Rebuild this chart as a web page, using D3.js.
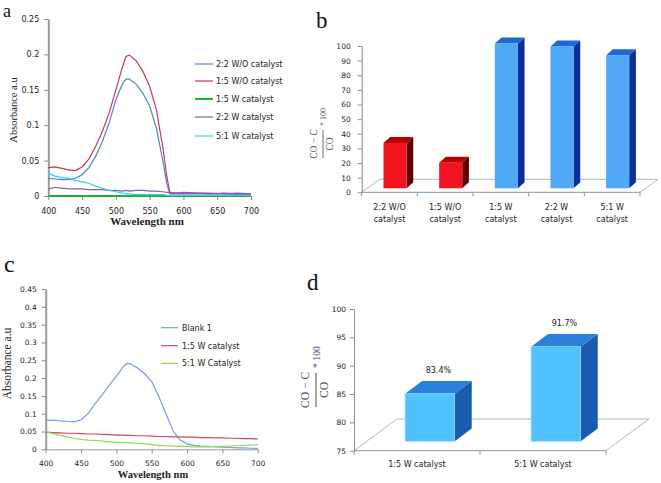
<!DOCTYPE html>
<html><head><meta charset="utf-8">
<script src="https://cdn.jsdelivr.net/npm/d3@7"></script>
<style>body{margin:0;background:#fff}svg{display:block}</style>
</head><body><svg id="chart" width="661" height="483"></svg>
<script>
// ---------- DATA ----------
const wavelengthA = [400,410,420,430,440,450,460,470,480,490,500,510,515,520,530,540,550,560,570,575,580,590,600,620,640,660,680,700];
const seriesA22WO = [.025,.024,.023,.023,.025,.030,.040,.056,.077,.103,.136,.159,.165,.165,.158,.145,.127,.096,.047,.019,.003,.003,.003,.003,.003,.003,.002,.002];
const seriesA15WO = [.040,.041,.039,.037,.036,.041,.052,.070,.091,.117,.150,.183,.197,.199,.191,.176,.155,.122,.066,.030,.004,.004,.004,.004,.003,.004,.003,.003];
const seriesA15W  = [0,0,0,0,0,0,0,0,0,0,0,0,0,0,0,0,0,0,0,0,0,0,0,0,0,0,0,0];
const seriesA22W  = [.010,.012,.011,.010,.010,.010,.009,.009,.009,.008,.008,.007,.008,.007,.008,.008,.007,.007,.006,.005,.005,.004,.005,.004,.004,.003,.004,.003];
const seriesA51W  = [.032,.028,.026,.025,.022,.020,.018,.014,.011,.008,.006,.004,.003,.003,.002,.002,.002,.002,.002,.001,.001,.001,.001,.001,.001,.001,.001,.001];
const legendA = ["2:2 W/O catalyst","1:5 W/O catalyst","1:5 W catalyst","2:2 W catalyst","5:1 W catalyst"];
const yTicksA = [0,0.05,0.1,0.15,0.2,0.25];
const yTickLabelsA = ["0","0.05","0.1","0.15","0.2","0.25"];
const xTicks = [400,450,500,550,600,650,700];

const wavelengthC = [400,410,420,430,440,450,460,470,480,490,500,510,515,520,530,540,550,560,570,580,590,600,610,620,630,640,650,660,670,680,690,700];
const seriesCBlank = [.082,.082,.080,.078,.077,.083,.100,.128,.153,.180,.205,.232,.241,.240,.228,.212,.190,.148,.101,.052,.027,.015,.011,.009,.008,.007,.006,.005,.004,.004,.003,.002];
const seriesC15W   = [.048,.047,.046,.045,.045,.044,.043,.043,.042,.041,.040,.040,.039,.039,.038,.038,.037,.036,.036,.035,.035,.034,.034,.033,.033,.032,.032,.031,.031,.030,.030,.029];
const seriesC51W   = [.050,.044,.039,.035,.031,.028,.026,.025,.023,.021,.020,.019,.019,.018,.017,.015,.013,.011,.010,.009,.008,.008,.007,.007,.007,.008,.008,.009,.010,.011,.012,.013];
const legendC = ["Blank 1","1:5 W catalyst","5:1 W Catalyst"];
const yTicksC = [0,0.05,0.1,0.15,0.2,0.25,0.3,0.35,0.4,0.45];
const yTickLabelsC = ["0","0.05","0.1","0.15","0.2","0.25","0.3","0.35","0.4","0.45"];

const categoriesB = ["2:2 W/O catalyst","1:5 W/O catalyst","1:5 W catalyst","2:2 W catalyst","5:1 W catalyst"];
const categoryLinesB = [["2:2 W/O","catalyst"],["1:5 W/O","catalyst"],["1:5 W","catalyst"],["2:2 W","catalyst"],["5:1 W","catalyst"]];
const valuesB = [31, 17.5, 99, 97, 91];
const groupB = ["red","red","blue","blue","blue"];
const yTicksB = [0,10,20,30,40,50,60,70,80,90,100];

const categoriesD = ["1:5 W catalyst","5:1 W catalyst"];
const valuesD = [83.4, 91.7];
const valueLabelsD = ["83.4%","91.7%"];
const yTicksD = [75,80,85,90,95,100];

// ---------- STYLES ----------
const svg = d3.select("#chart");
const SANS = "DejaVu Sans, Verdana, sans-serif";
const SERIF = "Liberation Serif, Times New Roman, serif";
const colA = ["#4A86D8","#C23A5C","#1DB33A","#8064A2","#3CC8F2"];
const widA = [1.2,1.2,2,1.2,1.2];
const colC = ["#6FA0E2","#D2465F","#95D655"];

function panelLetter(t,x,y,size){
  svg.append("text").attr("x",x).attr("y",y).attr("font-family",SERIF).attr("font-size",size).attr("fill","#111").text(t);
}

// ---------- LINE PANEL ----------
function linePanel(cfg){
  const g = svg.append("g");
  const x = d3.scaleLinear().domain([400,700]).range(cfg.xr);
  const y = d3.scaleLinear().domain(cfg.yd).range(cfg.yr);
  const ya = g.append("g").attr("transform",`translate(${cfg.xr[0]},0)`)
    .call(d3.axisLeft(y).tickValues(cfg.yt).tickFormat((d,i)=>cfg.ytl[i]).tickSize(4).tickSizeOuter(0).tickPadding(cfg.ypad));
  ya.select(".domain").attr("stroke","#9a9a9a").attr("stroke-width",2);
  ya.selectAll(".tick line").attr("stroke","#8a8a8a");
  ya.selectAll("text").attr("font-family",SANS).attr("font-size",cfg.fs).attr("fill","#222");
  const xa = g.append("g").attr("transform",`translate(0,${cfg.yr[0]})`)
    .call(d3.axisBottom(x).tickValues(xTicks).tickSize(4).tickSizeOuter(0).tickPadding(cfg.xpad));
  xa.select(".domain").attr("stroke","#9a9a9a");
  xa.selectAll(".tick line").attr("stroke","#8a8a8a");
  xa.selectAll("text").attr("font-family",SANS).attr("font-size",cfg.fs).attr("fill","#222");
  const line = d3.line().x((d,i)=>x(cfg.wl[i])).y(d=>y(d));
  cfg.series.forEach((s,k)=>{
    g.append("path").datum(s).attr("fill","none").attr("stroke",cfg.cols[k]).attr("stroke-width",cfg.wids[k]).attr("d",line);
  });
  cfg.legend.forEach((t,k)=>{
    const yy = cfg.legY[k];
    g.append("line").attr("x1",cfg.legX[0]).attr("x2",cfg.legX[1]).attr("y1",yy).attr("y2",yy)
      .attr("stroke",cfg.cols[k]).attr("stroke-width",cfg.wids[k]);
    g.append("text").attr("x",cfg.legX[2]).attr("y",yy).attr("dy","0.35em").attr("font-family",SANS)
      .attr("font-size",cfg.lfs).attr("fill","#222").text(t);
  });
  g.append("text").attr("x",cfg.xt[0]).attr("y",cfg.xt[1]).attr("text-anchor","middle").attr("font-family",SERIF)
    .attr("font-weight","bold").attr("font-size",cfg.xt[2]).attr("fill","#222").text("Wavelength nm");
  g.append("text").attr("transform",`translate(${cfg.yt2[0]},${cfg.yt2[1]}) rotate(-90)`).attr("text-anchor","middle")
    .attr("font-family",SERIF).attr("font-size",cfg.yt2[2]).attr("fill","#222").text("Absorbance a.u");
}

linePanel({xr:[48.3,251],yd:[0,0.25],yr:[196,19],yt:yTicksA,ytl:yTickLabelsA,fs:8,ypad:5,xpad:8,
  wl:wavelengthA,series:[seriesA22WO,seriesA15WO,seriesA15W,seriesA22W,seriesA51W],cols:colA,wids:widA,
  legend:legendA,legY:[64,81,99,117,136],legX:[195,213,216],lfs:8,
  xt:[147,225,11],yt2:[17,110,10.5]});
linePanel({xr:[45.7,257.7],yd:[0,0.45],yr:[449.3,289],yt:yTicksC,ytl:yTickLabelsC,fs:7.5,ypad:5,xpad:7,
  wl:wavelengthC,series:[seriesCBlank,seriesC15W,seriesC51W],cols:colC,wids:[1.2,1.2,1.2],
  legend:legendC,legY:[327.7,345.7,363.3],legX:[161,178,182],lfs:8,
  xt:[153,478,10.5],yt2:[11,363.5,11.5]});

// ---------- 3D BAR PANEL ----------
function bar3D(g,x0,w,yT,yB,dx,dy,c){
  g.append("path").attr("d",`M${x0+w},${yT}L${x0+w+dx},${yT-dy}L${x0+w+dx},${yB-dy}L${x0+w},${yB}Z`).attr("fill",c.side);
  g.append("path").attr("d",`M${x0},${yT}L${x0+dx},${yT-dy}L${x0+w+dx},${yT-dy}L${x0+w},${yT}Z`).attr("fill",c.top);
  g.append("rect").attr("x",x0).attr("y",yT).attr("width",w).attr("height",yB-yT).attr("fill",c.front).attr("stroke",c.edge||"none").attr("stroke-width",0.6);
}
function formula(x,y,s){
  const f = svg.append("g").attr("transform",`translate(${x},${y}) rotate(-90) scale(${s})`).attr("font-family",SERIF).attr("fill","#5a4585");
  f.append("text").attr("x",14).attr("y",-6).attr("text-anchor","middle").attr("font-size",9.5).text("CO − C");
  f.append("line").attr("x1",0).attr("x2",28).attr("y1",0).attr("y2",0).attr("stroke","#444").attr("stroke-width",0.8);
  f.append("text").attr("x",14).attr("y",10).attr("text-anchor","middle").attr("font-size",9.5).text("CO");
  f.append("text").attr("x",32).attr("y",3).attr("font-size",8).text("* 100");
}

function barPanel(cfg){
  const g = svg.append("g");
  const x = d3.scaleBand().domain(cfg.cats).range(cfg.xr).padding(0);
  const y = d3.scaleLinear().domain(cfg.yd).range(cfg.yr);
  const y0 = cfg.yr[0], xL = cfg.xr[0], xR = cfg.xr[1];
  const [fdx,fdy] = cfg.floor;
  g.append("path").attr("d",`M${xL},${y0}L${xL+fdx},${y0-fdy}L${xR+fdx},${y0-fdy}L${xR},${y0}`)
    .attr("fill","none").attr("stroke","#a8b0b8").attr("stroke-width",0.9);
  g.append("line").attr("x1",xL).attr("x2",xR).attr("y1",y0).attr("y2",y0).attr("stroke","#8a96a6");
  const bounds = cfg.cats.map(c=>x(c)).concat([xR]);
  g.selectAll(".bt").data(bounds).enter().append("line").attr("x1",d=>d).attr("x2",d=>d).attr("y1",y0).attr("y2",y0+4).attr("stroke","#8a96a6");
  const ya = g.append("g").attr("transform",`translate(${xL},0)`)
    .call(d3.axisLeft(y).tickValues(cfg.yt).tickFormat(d3.format("d")).tickSize(4).tickSizeOuter(0).tickPadding(cfg.ypad));
  ya.select(".domain").attr("stroke","#7f8fa3");
  ya.selectAll(".tick line").attr("stroke","#7f8fa3");
  ya.selectAll("text").attr("font-family",SANS).attr("font-size",7.5).attr("fill","#1c1c38");
  const bw = x.bandwidth()*cfg.wf;
  cfg.vals.forEach((v,i)=>{
    const x0 = x(cfg.cats[i]) + (x.bandwidth()-bw)/2 + cfg.off[0];
    const yT = y(v) - cfg.off[1], yB = y0 - cfg.off[1];
    bar3D(g,x0,bw,yT,yB,cfg.depth[0],cfg.depth[1],cfg.colors[i]);
    if(cfg.vlabels){
      g.append("text").attr("x",x0+bw/2+cfg.depth[0]/2).attr("y",yT-cfg.depth[1]-8).attr("text-anchor","middle")
        .attr("font-family",SANS).attr("font-size",8).attr("fill","#222").text(cfg.vlabels[i]);
    }
  });
  cfg.cats.forEach((c,i)=>{
    cfg.lines[i].forEach((t,j)=>{
      g.append("text").attr("x",x(c)+x.bandwidth()/2).attr("y",cfg.labY+j*12.5).attr("text-anchor","middle")
        .attr("font-family",SANS).attr("font-size",8).attr("fill","#222").text(t);
    });
  });
}

const RED = {front:"#F2141F",side:"#5E0000",top:"#B80000"};
const BLUE = {front:"#4FA9F7",side:"#0B2F98",top:"#1F66D6"};
barPanel({cats:categoriesB,lines:categoryLinesB,vals:valuesB,xr:[361.7,640],yd:[0,100],yr:[192.3,46],yt:yTicksB,ypad:7,
  floor:[18,13],wf:0.414,off:[5.5,4],depth:[6.7,6],colors:groupB.map(g=>g==="red"?RED:BLUE),labY:209.5});

const CYAN = {front:"#50C3FE",side:"#1A5BB0",top:"#2A80DC",edge:"#8fe0ff"};
barPanel({cats:categoriesD,lines:categoriesD.map(c=>[c]),vals:valuesD,vlabels:valueLabelsD,xr:[354,606],yd:[75,100],yr:[450.7,309],yt:yTicksD,ypad:4,
  floor:[43,31.7],wf:0.394,off:[12.9,9.4],depth:[17,12.7],colors:[CYAN,CYAN],labY:467});

formula(323,158,1);
formula(316,407,1.22);

panelLetter("a",3,16.5,18);
panelLetter("b",316,28,23);
panelLetter("c",4,272,24);
panelLetter("d",307,290,23);
</script></body></html>
